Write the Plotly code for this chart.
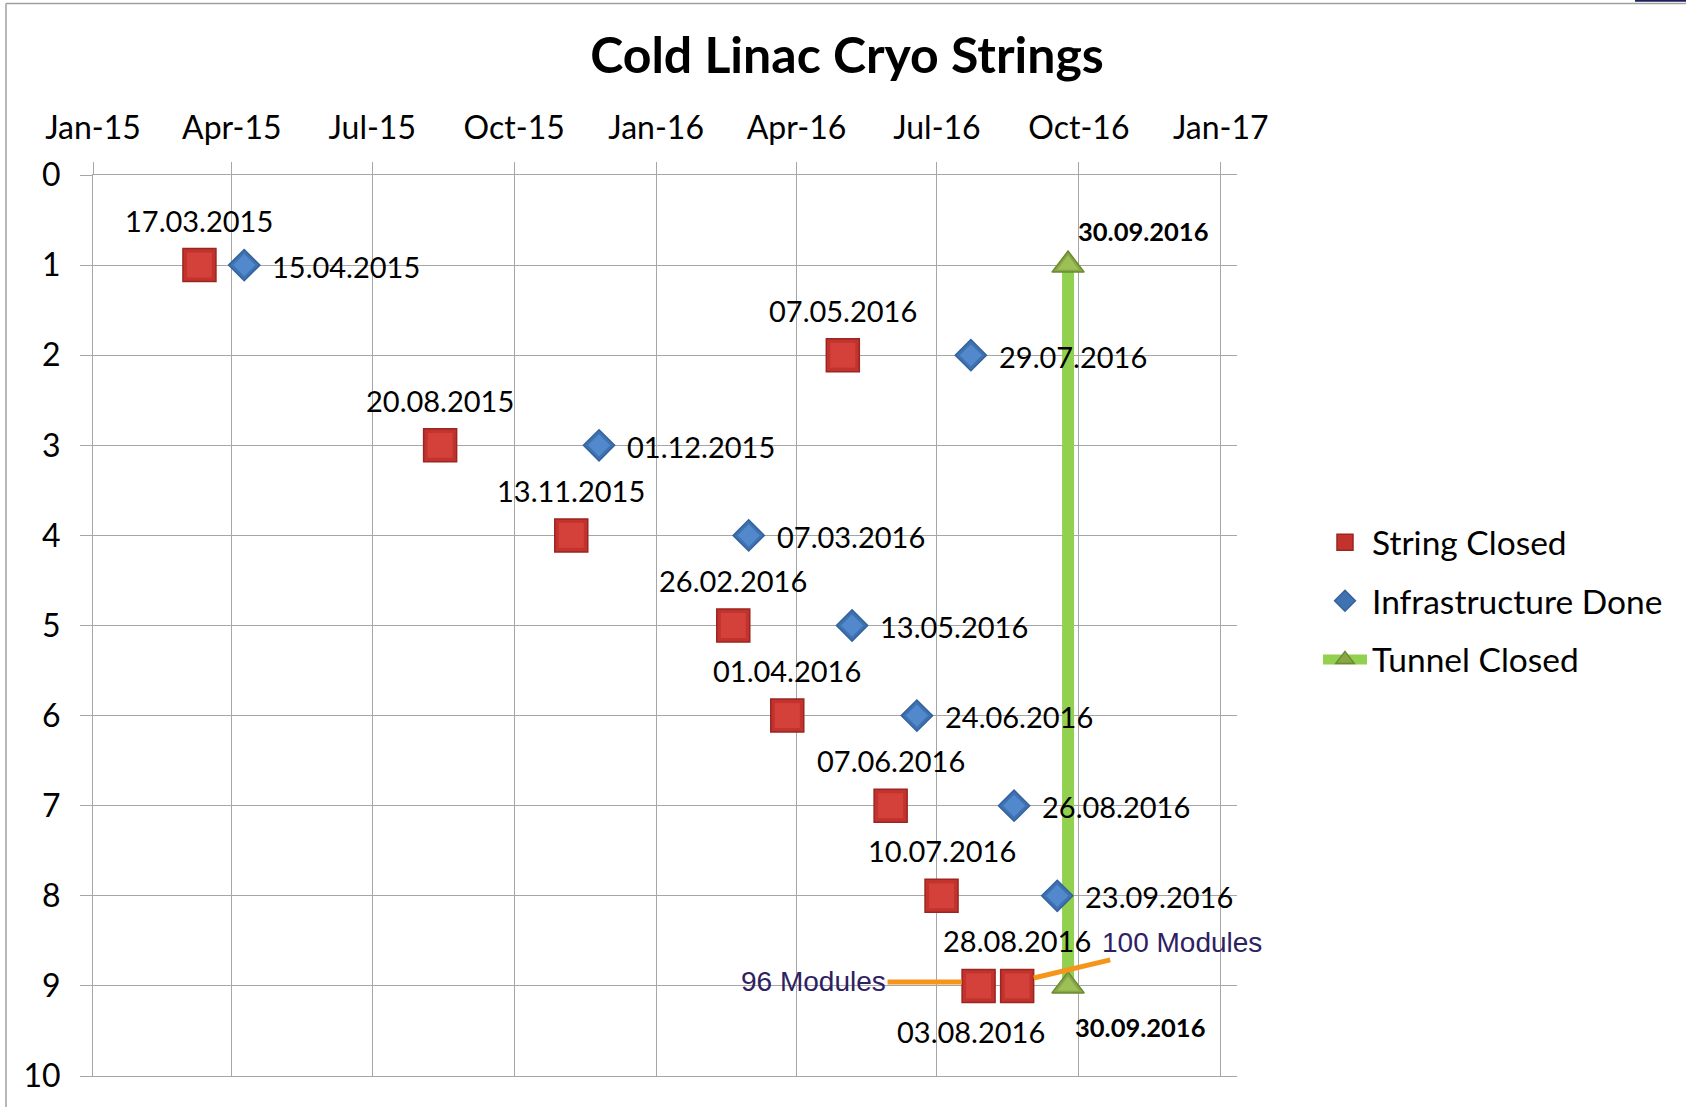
import pandas as pd
import plotly.graph_objects as go

# ---------------- data ----------------
string_closed_dates = ["2015-03-17", "2016-05-07", "2015-08-20", "2015-11-13", "2016-02-26",
                       "2016-04-01", "2016-06-07", "2016-07-10", "2016-08-03", "2016-08-28"]
string_closed_rows = [1, 2, 3, 4, 5, 6, 7, 8, 9, 9]

infra_done_dates = ["2015-04-15", "2016-07-29", "2015-12-01", "2016-03-07",
                    "2016-05-13", "2016-06-24", "2016-08-26", "2016-09-23"]
infra_done_rows = [1, 2, 3, 4, 5, 6, 7, 8]

tunnel_closed_dates = ["2016-09-30", "2016-09-30"]
tunnel_closed_rows = [1, 9]

module_notes = ["96 Modules", "100 Modules"]          # last two strings (row 9)
module_note_dates = ["2016-08-03", "2016-08-28"]
module_note_rows = [9, 9]

# ---------------- layout constants ----------------
W, H = 1686, 1107
ML, MR, MT, MB = 93, 449, 175, 31
PW, PH = W - ML - MR, H - MT - MB
FONT = "Lato"
GRID = "#A6A6A6"
# labels placed under the marker instead of above it: date -> horizontal nudge
LABEL_BELOW = {"2016-08-03": -8}


def fmt(d):
    return pd.Timestamp(d).strftime("%d.%m.%Y")


def px_to_paper(px, py):
    return (px - ML) / PW, (H - MB - py) / PH


fig = go.Figure()

# tunnel closed: connecting bar between first and last string
fig.add_trace(go.Scatter(
    x=pd.to_datetime(tunnel_closed_dates), y=tunnel_closed_rows,
    mode="lines+markers", name="Tunnel Closed", legendrank=3, legendgroup="c",
    line=dict(color="#92D050", width=12),
    marker=dict(symbol="triangle-up", size=28, color="#86A744",
                line=dict(color="#6B8A33", width=1.5)),
))
fig.add_trace(go.Scatter(
    x=pd.to_datetime(tunnel_closed_dates), y=tunnel_closed_rows,
    mode="markers", showlegend=False, hoverinfo="skip", legendgroup="c",
    marker=dict(symbol="triangle-up", size=19, color="#9CBF56", line=dict(width=0)),
))

fig.add_trace(go.Scatter(
    x=pd.to_datetime(string_closed_dates), y=string_closed_rows,
    mode="markers", name="String Closed", legendrank=1, legendgroup="a",
    marker=dict(symbol="square", size=33, color="#C1332C",
                line=dict(color="#9B2520", width=1.5)),
))
fig.add_trace(go.Scatter(
    x=pd.to_datetime(string_closed_dates), y=string_closed_rows,
    mode="markers", showlegend=False, hoverinfo="skip", legendgroup="a",
    marker=dict(symbol="square", size=25, color="#D4403A", line=dict(width=0)),
))

fig.add_trace(go.Scatter(
    x=pd.to_datetime(infra_done_dates), y=infra_done_rows,
    mode="markers", name="Infrastructure Done", legendrank=2, legendgroup="b",
    marker=dict(symbol="diamond", size=24, color="#3F72B0",
                line=dict(color="#33629E", width=1.5)),
))
fig.add_trace(go.Scatter(
    x=pd.to_datetime(infra_done_dates), y=infra_done_rows,
    mode="markers", showlegend=False, hoverinfo="skip", legendgroup="b",
    marker=dict(symbol="diamond", size=17, color="#5289CC", line=dict(width=0)),
))

annotations = []
label_font = dict(family=FONT, size=29, color="black")

for d, r in zip(string_closed_dates, string_closed_rows):
    below = d in LABEL_BELOW
    annotations.append(dict(
        x=pd.Timestamp(d), y=r, text=fmt(d), showarrow=False, font=label_font,
        xanchor="center", yanchor="middle",
        xshift=LABEL_BELOW.get(d, 0), yshift=-46 if below else 45,
    ))

for d, r in zip(infra_done_dates, infra_done_rows):
    annotations.append(dict(
        x=pd.Timestamp(d), y=r, text=fmt(d), showarrow=False, font=label_font,
        xanchor="left", yanchor="middle", xshift=26, yshift=-1,
    ))

for i, (d, r) in enumerate(zip(tunnel_closed_dates, tunnel_closed_rows)):
    annotations.append(dict(
        x=pd.Timestamp(d), y=r, text="<b>%s</b>" % fmt(d), showarrow=False,
        font=dict(family=FONT, size=25.5, color="black"),
        xanchor="left", yanchor="middle",
        xshift=8 if i == 0 else 5, yshift=34 if i == 0 else -41,
    ))

note_offsets = [(-165, 0), (165, -39)]
for txt, d, r, (ax, ay) in zip(module_notes, module_note_dates, module_note_rows, note_offsets):
    annotations.append(dict(
        x=pd.Timestamp(d), y=r, text=txt, showarrow=True, arrowhead=0,
        arrowcolor="#F5961B", arrowwidth=5, standoff=17, ax=ax, ay=ay, yshift=4,
        font=dict(family="Liberation Sans", size=28, color="#2D2161"),
    ))

# outer frame of the chart area
x0, y0 = px_to_paper(6, 3.5)
x1, y1 = px_to_paper(W, H)
shapes = [
    dict(type="line", xref="paper", yref="paper", x0=x0, y0=y0, x1=x0, y1=y1,
         line=dict(color="#A0A0A0", width=1.5)),
    dict(type="line", xref="paper", yref="paper", x0=x0, y0=y0, x1=x1, y1=y0,
         line=dict(color="#A0A0A0", width=1.5)),
]
sx0, sy0 = px_to_paper(1635, 0.8)
shapes.append(dict(type="line", xref="paper", yref="paper", x0=sx0, y0=sy0, x1=x1, y1=sy0,
                   line=dict(color="#1F1F5C", width=2)))

lx, ly = px_to_paper(1318, 514)

fig.update_layout(
    width=W, height=H,
    margin=dict(l=ML, r=MR, t=MT, b=MB, autoexpand=False),
    paper_bgcolor="white", plot_bgcolor="white",
    title=dict(text="<b>Cold Linac Cryo Strings</b>", x=847 / W, xref="container", xanchor="center",
               y=1 - 55 / H, yref="container", yanchor="middle",
               font=dict(family=FONT, size=50, color="black")),
    font=dict(family=FONT, color="black"),
    showlegend=True,
    legend=dict(x=lx, y=ly, xanchor="left", yanchor="top", font=dict(family=FONT, size=33.5),
                itemwidth=44, traceorder="grouped", tracegroupgap=12,
                bgcolor="rgba(0,0,0,0)", borderwidth=0),
    annotations=annotations,
    shapes=shapes,
)

fig.update_xaxes(
    type="date", side="top", range=["2015-01-07", "2017-01-17 12:00"],
    tick0="2015-01-07", dtick="M3", tickformat="%b-%y",
    showgrid=True, gridcolor=GRID, gridwidth=1,
    ticks="outside", ticklen=12, tickcolor=GRID, tickwidth=1, ticklabelstandoff=10,
    showline=True, linecolor=GRID, linewidth=1, mirror=True,
    tickfont=dict(family=FONT, size=32, color="black"),
    zeroline=False,
)
fig.update_yaxes(
    range=[10, 0], tick0=0, dtick=1,
    showgrid=True, gridcolor=GRID, gridwidth=1,
    ticks="outside", ticklen=12, tickcolor=GRID, tickwidth=1, ticklabelstandoff=13,
    showline=True, linecolor=GRID, linewidth=1,
    tickfont=dict(family=FONT, size=32, color="black"),
    zeroline=False,
)

fig.write_html("out.html")
